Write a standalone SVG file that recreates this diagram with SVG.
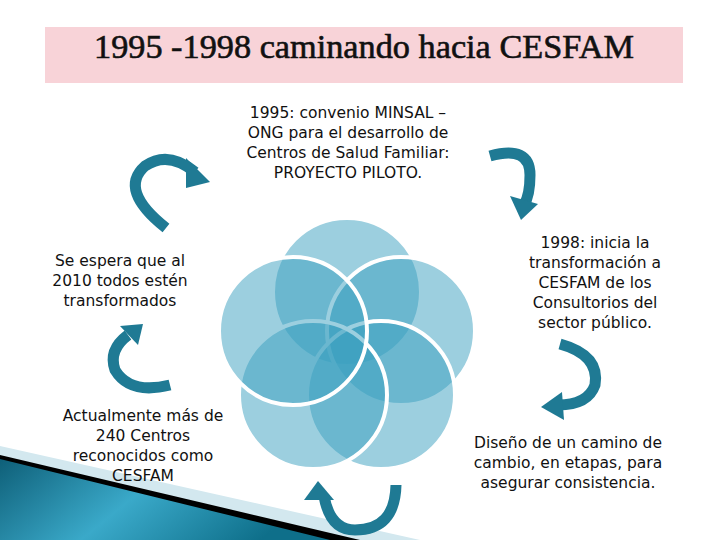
<svg xmlns="http://www.w3.org/2000/svg" width="720" height="540" viewBox="0 0 720 540">
<defs>
<style>
.t{font-family:"DejaVu Sans","Open Sans",sans-serif;font-size:15.5px;fill:#111;text-anchor:middle}
.c{fill:#3a9fc0;fill-opacity:0.5;stroke:#fff;stroke-width:4}
.a{fill:none;stroke:#1f7a94;stroke-width:11;stroke-linecap:butt}
.ah{fill:#1f7a94}
</style>
<linearGradient id="g" x1="0" y1="0" x2="1" y2="0.3">
<stop offset="0" stop-color="#0e5f78"/><stop offset="0.5" stop-color="#3aa9c9"/><stop offset="1" stop-color="#0e6f8a"/>
</linearGradient>
</defs>
<rect width="720" height="540" fill="#fff"/>
<g id="swoosh">
<polygon points="0,446 420,540 0,540" fill="#d3e8ef"/>
<polygon points="0,455 360,540 0,540" fill="#000"/>
<polygon points="0,459 330,540 0,540" fill="url(#g)"/>
</g>
<g id="title">
<rect x="45" y="27" width="638" height="56" fill="#f8d3d8"/>
<text x="364" y="58" font-family="Liberation Serif,serif" font-size="33" stroke="#111" stroke-width="0.6" text-anchor="middle" fill="#111" textLength="540" lengthAdjust="spacingAndGlyphs">1995 -1998 caminando hacia CESFAM</text>
</g>
<g id="flower">
<circle class="c" cx="347" cy="292" r="74"/>
<circle class="c" cx="401" cy="331" r="74"/>
<circle class="c" cx="381" cy="395" r="74"/>
<circle class="c" cx="313" cy="395" r="74"/>
<circle class="c" cx="293" cy="331" r="74"/>
</g>
<g id="connectors">
<path class="a" d="M166,228 Q118,190 145,166 Q168,150 195,172"/>
<polygon class="ah" points="210,182 186,158 186,188"/>
<path class="a" d="M490,156 Q530,145 530,175 Q530,195 524,205"/>
<polygon class="ah" points="521,220 510,196 538,204"/>
<path class="a" d="M560,344 Q600,355 595,385 Q588,405 558,405"/>
<polygon class="ah" points="541,407 562,392 564,420"/>
<path class="a" d="M170,385 Q130,395 115,370 Q108,350 128,335"/>
<polygon class="ah" points="143,324 120,326 138,345"/>
<path class="a" d="M324,496 Q330,530 355,530 Q395,530 396,485"/>
<polygon class="ah" points="318,481 304,500 334,500"/>
</g>
<g id="n1"><text class="t"><tspan x="348" y="118">1995: convenio MINSAL –</tspan><tspan x="348" y="138">ONG para el desarrollo de</tspan><tspan x="348" y="158">Centros de Salud Familiar:</tspan><tspan x="348" y="178">PROYECTO PILOTO.</tspan></text></g>
<g id="n2"><text class="t"><tspan x="595" y="248">1998: inicia la</tspan><tspan x="595" y="268">transformación a</tspan><tspan x="595" y="288">CESFAM de los</tspan><tspan x="595" y="308">Consultorios del</tspan><tspan x="595" y="328">sector público.</tspan></text></g>
<g id="n3"><text class="t"><tspan x="568" y="448">Diseño de un camino de</tspan><tspan x="568" y="468">cambio, en etapas, para</tspan><tspan x="568" y="488">asegurar consistencia.</tspan></text></g>
<g id="n4"><text class="t"><tspan x="143" y="421">Actualmente más de</tspan><tspan x="143" y="441">240 Centros</tspan><tspan x="143" y="461">reconocidos como</tspan><tspan x="143" y="481">CESFAM</tspan></text></g>
<g id="n5"><text class="t"><tspan x="120" y="266">Se espera que al</tspan><tspan x="120" y="286">2010 todos estén</tspan><tspan x="120" y="306">transformados</tspan></text></g>
</svg>
